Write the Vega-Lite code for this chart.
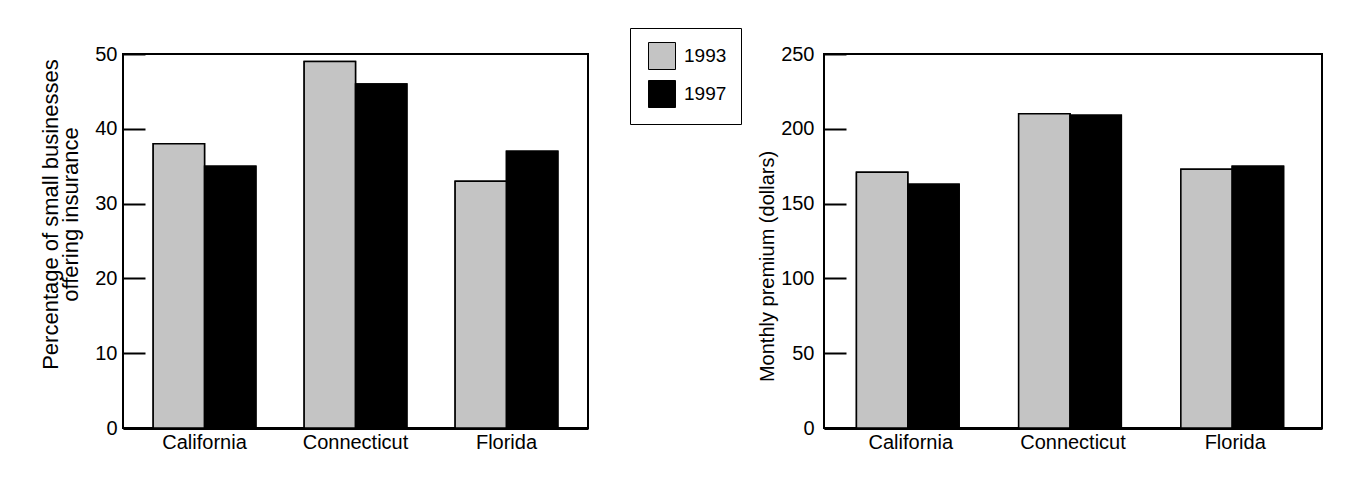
{
  "$schema": "https://vega.github.io/schema/vega-lite/v6.json",
  "background": "white",
  "padding": {"left": 38, "top": 27, "right": 30, "bottom": 5},
  "datasets": {
    "pct": [
      {"state": "California", "year": "1993", "value": 38},
      {"state": "California", "year": "1997", "value": 35},
      {"state": "Connecticut", "year": "1993", "value": 49},
      {"state": "Connecticut", "year": "1997", "value": 46},
      {"state": "Florida", "year": "1993", "value": 33},
      {"state": "Florida", "year": "1997", "value": 37}
    ],
    "prem": [
      {"state": "California", "year": "1993", "value": 171},
      {"state": "California", "year": "1997", "value": 163},
      {"state": "Connecticut", "year": "1993", "value": 210},
      {"state": "Connecticut", "year": "1997", "value": 209},
      {"state": "Florida", "year": "1993", "value": 173},
      {"state": "Florida", "year": "1997", "value": 175}
    ]
  },
  "config": {
    "font": "Liberation Sans",
    "view": {"stroke": "black", "strokeWidth": 2},
    "axis": {
      "labelFontSize": 20,
      "labelColor": "black",
      "titleFontSize": 20,
      "titleFontWeight": "normal",
      "titleColor": "black",
      "grid": false,
      "domainColor": "black",
      "tickColor": "black"
    },
    "axisX": {"ticks": false, "labelPadding": 4, "labelAngle": 0, "title": null, "domainWidth": 3},
    "axisY": {"domain": false},
    "legend": {"labelFontSize": 19, "labelColor": "black"}
  },
  "spacing": 167,
  "resolve": {"scale": {"color": "shared"}},
  "hconcat": [
    {
      "width": 465,
      "height": 374,
      "data": {"name": "pct"},
      "resolve": {"axis": {"y": "independent"}},
      "encoding": {
        "x": {"field": "state", "type": "nominal", "scale": {"paddingInner": 0.32, "paddingOuter": 0.2}},
        "xOffset": {"field": "year", "type": "nominal", "scale": {"paddingInner": 0, "paddingOuter": 0}}
      },
      "layer": [
        {
          "mark": {"type": "bar", "stroke": "black", "strokeWidth": 1.5},
          "encoding": {
            "y": {"field": "value", "type": "quantitative", "scale": {"domain": [0, 50], "nice": false},
                  "axis": {"orient": "left", "values": [0, 10, 20, 30, 40, 50], "ticks": false, "labelPadding": 6,
                           "title": ["Percentage of small businesses", "offering insurance"], "titleFontSize": 22, "titleLineHeight": 20, "titlePadding": 12, "titleY": 160}},
            "color": {"field": "year", "type": "nominal",
                      "scale": {"domain": ["1993", "1997"], "range": ["#c4c4c4", "#000000"]},
                      "legend": {"title": null, "orient": "none", "legendX": 507, "legendY": -26,
                                 "symbolType": "square", "symbolSize": 729, "symbolStrokeColor": "black", "symbolStrokeWidth": 1,
                                 "strokeColor": "black", "fillColor": "white", "padding": 14, "rowPadding": 6, "labelOffset": 8,
                                 "symbolOffset": 4, "symbolOpacity": 1}}
          }
        },
        {
          "mark": {"type": "bar", "stroke": "black", "strokeWidth": 1.5},
          "encoding": {
            "y": {"field": "value", "type": "quantitative", "scale": {"domain": [0, 50], "nice": false},
                  "axis": {"orient": "left", "values": [0, 10, 20, 30, 40, 50], "labels": false, "title": null,
                           "ticks": true, "tickSize": 22, "tickWidth": 2, "offset": -22}},
            "color": {"field": "year", "type": "nominal"}
          }
        }
      ]
    },
    {
      "width": 498,
      "height": 374,
      "data": {"name": "prem"},
      "resolve": {"axis": {"y": "independent"}},
      "encoding": {
        "x": {"field": "state", "type": "nominal", "scale": {"paddingInner": 0.33, "paddingOuter": 0.2}},
        "xOffset": {"field": "year", "type": "nominal", "scale": {"paddingInner": 0, "paddingOuter": 0}}
      },
      "layer": [
        {
          "mark": {"type": "bar", "stroke": "black", "strokeWidth": 1.5},
          "encoding": {
            "y": {"field": "value", "type": "quantitative", "scale": {"domain": [0, 250], "nice": false},
                  "axis": {"orient": "left", "values": [0, 50, 100, 150, 200, 250], "ticks": false, "labelPadding": 10,
                           "title": "Monthly premium (dollars)", "titlePadding": 3, "titleY": 212}},
            "color": {"field": "year", "type": "nominal"}
          }
        },
        {
          "mark": {"type": "bar", "stroke": "black", "strokeWidth": 1.5},
          "encoding": {
            "y": {"field": "value", "type": "quantitative", "scale": {"domain": [0, 250], "nice": false},
                  "axis": {"orient": "left", "values": [0, 50, 100, 150, 200, 250], "labels": false, "title": null,
                           "ticks": true, "tickSize": 22, "tickWidth": 2, "offset": -22}},
            "color": {"field": "year", "type": "nominal"}
          }
        }
      ]
    }
  ]
}
